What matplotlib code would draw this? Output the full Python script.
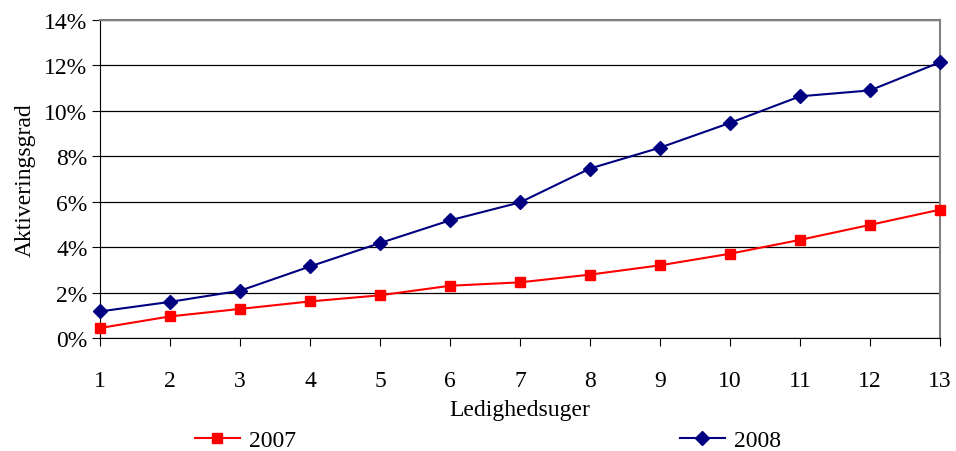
import matplotlib.pyplot as plt
from matplotlib.lines import Line2D
from matplotlib.ticker import FuncFormatter

plt.rcParams['font.family'] = ['Liberation Serif', 'DejaVu Serif']

uger = [1, 2, 3, 4, 5, 6, 7, 8, 9, 10, 11, 12, 13]
aar_2007 = [0.44, 0.95, 1.28, 1.61, 1.88, 2.30, 2.45, 2.79, 3.20, 3.71, 4.32, 4.98, 5.65]
aar_2008 = [1.17, 1.59, 2.08, 3.15, 4.18, 5.18, 5.97, 7.46, 8.38, 9.47, 10.64, 10.90, 12.14]

fig = plt.figure(figsize=(9.56, 4.52), dpi=100)
ax = fig.add_axes([100 / 956, 1 - 339 / 452, 840 / 956, 318 / 452])

ax.plot(uger, aar_2007, color="#FF0000", marker="s", markersize=7, lw=1.5, clip_on=False, zorder=3)
ax.plot(uger, aar_2008, color="#000080", marker="D", markersize=7, lw=1.5, clip_on=False, zorder=3)

ax.set_xlim(1, 13)
ax.set_ylim(0, 14)
ax.set_xticks(uger)
ax.set_yticks(range(0, 15, 2))
ax.yaxis.set_major_formatter(FuncFormatter(lambda v, p: f"{v:.0f}%"))
ax.grid(axis="y", color="black", lw=0.9)
ax.set_axisbelow(True)

ax.tick_params(axis="x", direction="out", length=6, pad=17, labelsize=17)
ax.tick_params(axis="y", direction="out", length=6, pad=3, labelsize=17)
for s in ["top", "right"]:
    ax.spines[s].set_color("#808080")
    ax.spines[s].set_linewidth(1.5)
for s in ["left", "bottom"]:
    ax.spines[s].set_color("black")

ax.set_xlabel("Ledighedsuger", fontsize=17, labelpad=6)
ax.set_ylabel("Aktiveringsgrad", fontsize=17, labelpad=6)

h1 = Line2D([], [], color="#FF0000", marker="s", markersize=7, lw=1.5)
h2 = Line2D([], [], color="#000080", marker="D", markersize=7, lw=1.5)
fig.legend([h1], ["2007"], loc="center left", bbox_to_anchor=(195 / 956, 1 - 441 / 452),
           frameon=False, fontsize=17, handlelength=1.9, handletextpad=0.4,
           borderpad=0, borderaxespad=0)
fig.legend([h2], ["2008"], loc="center left", bbox_to_anchor=(680 / 956, 1 - 441 / 452),
           frameon=False, fontsize=17, handlelength=1.9, handletextpad=0.4,
           borderpad=0, borderaxespad=0)

fig.savefig("out.png", dpi=100)
